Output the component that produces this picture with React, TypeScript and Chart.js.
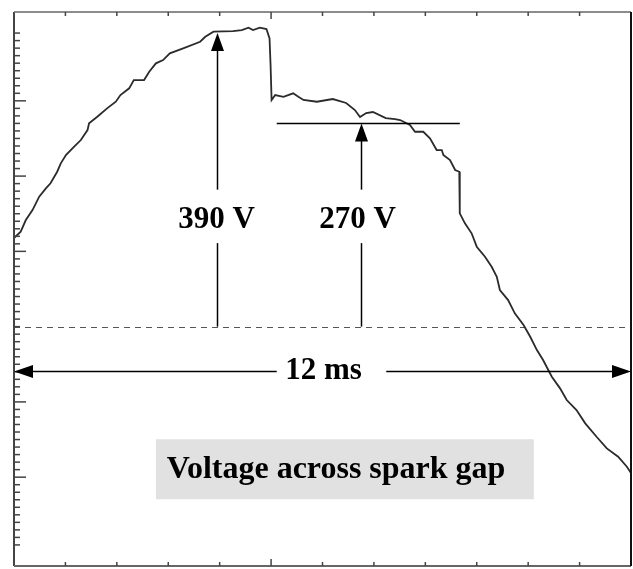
import { useEffect, useRef } from 'react';
import { Chart, registerables } from 'chart.js';

Chart.register(...registerables);

// Trace: time (ms) and voltage (V)
const timeMs = [
  0.0, 0.13, 0.23, 0.36, 0.49, 0.62, 0.71, 0.84, 0.91, 1.01, 1.17, 1.3, 1.43, 1.46, 1.62, 1.81,
  1.98, 2.07, 2.24, 2.33, 2.53, 2.63, 2.76, 2.9, 3.03, 3.29, 3.62, 3.72, 3.88, 4.26, 4.43, 4.56,
  4.65, 4.78, 4.91, 4.97, 4.99, 5.01, 5.08, 5.24, 5.43, 5.53, 5.63, 5.89, 6.2, 6.46, 6.63, 6.73,
  6.85, 6.98, 7.23, 7.41, 7.51, 7.7, 7.8, 7.96, 8.09, 8.22, 8.32, 8.35, 8.48, 8.58, 8.66, 8.67,
  8.77, 8.9, 9.0, 9.16, 9.29, 9.39, 9.45, 9.61, 9.74, 9.91, 10.04, 10.17, 10.29, 10.46, 10.62,
  10.75, 10.94, 11.11, 11.33, 11.53, 11.75, 11.92, 12.0,
];
const voltage = [
  117.7, 126.1, 141.6, 154.9, 172.6, 183.7, 190.4, 205.8, 217.0, 228.0, 239.0, 247.9, 261.2, 270.1,
  278.9, 290.0, 298.8, 307.7, 316.6, 327.6, 327.6, 338.6, 349.8, 354.2, 363.1, 369.7, 378.5, 385.1,
  391.8, 392.7, 394.0, 397.1, 394.0, 397.1, 395.4, 383.0, 347.5, 301.1, 307.7, 305.4, 310.0, 305.4,
  301.1, 298.8, 302.4, 297.1, 287.8, 278.5, 283.8, 285.1, 277.1, 275.8, 274.5, 267.8, 258.9, 258.9,
  250.2, 234.6, 234.6, 228.0, 221.3, 208.1, 205.8, 150.5, 137.2, 124.0, 106.2, 92.9, 79.6, 66.3,
  48.6, 35.3, 17.7, 2.1, -13.4, -31.1, -44.4, -66.6, -82.0, -97.5, -110.8, -128.5, -146.3, -161.7,
  -172.8, -186.1, -194.5,
];

// Axis extents (ms, V)
const X_MIN = 0;
const X_MAX = 12;
const Y_MIN = -318;
const Y_MAX = 418;

// Annotations
const markerLabels = ['390 V', '270 V'];
const markerTimes = [3.94, 6.74];
const markerValues = [390, 270];
const markerLabelTimes = [3.94, 6.68];
const plateauLineStart = 5.11;
const plateauLineEnd = 8.67;
const spanLabel = '12 ms';
const spanLevel = -59;
const captionText = 'Voltage across spark gap';

const FONT = 'bold 31px "Liberation Serif", "Times New Roman", serif';
const CAPTION_FONT = 'bold 32px "Liberation Serif", "Times New Roman", serif';

function arrowHead(ctx: CanvasRenderingContext2D, tx: number, ty: number, dir: string, len: number, half: number) {
  ctx.beginPath();
  if (dir === 'up') {
    ctx.moveTo(tx, ty);
    ctx.lineTo(tx - half, ty + len);
    ctx.lineTo(tx + half, ty + len);
  } else if (dir === 'left') {
    ctx.moveTo(tx, ty);
    ctx.lineTo(tx + len, ty - half);
    ctx.lineTo(tx + len, ty + half);
  } else {
    ctx.moveTo(tx, ty);
    ctx.lineTo(tx - len, ty - half);
    ctx.lineTo(tx - len, ty + half);
  }
  ctx.closePath();
  ctx.fill();
}

function line(ctx: CanvasRenderingContext2D, x1: number, y1: number, x2: number, y2: number) {
  ctx.beginPath();
  ctx.moveTo(x1, y1);
  ctx.lineTo(x2, y2);
  ctx.stroke();
}

const overlay = {
  id: 'overlay',
  beforeDatasetsDraw(chart: any) {
    const { ctx, chartArea, scales } = chart;
    const x = scales.x;
    const y = scales.y;
    ctx.save();
    // caption box
    const bx1 = x.getPixelForValue(2.76);
    const bx2 = x.getPixelForValue(10.11);
    const by1 = y.getPixelForValue(-149.6);
    const by2 = y.getPixelForValue(-229.3);
    ctx.fillStyle = '#e1e1e1';
    ctx.fillRect(bx1, by1, bx2 - bx1, by2 - by1);
    // dashed zero line
    ctx.strokeStyle = '#555';
    ctx.lineWidth = 1;
    ctx.setLineDash([6, 5]);
    const zy = Math.round(y.getPixelForValue(0)) + 0.5;
    line(ctx, chartArea.left, zy, chartArea.right, zy);
    ctx.setLineDash([]);
    ctx.restore();
  },
  afterDatasetsDraw(chart: any) {
    const { ctx, chartArea, scales } = chart;
    const x = scales.x;
    const y = scales.y;
    const { left, right, top, bottom } = chartArea;
    ctx.save();

    // frame
    ctx.strokeStyle = '#444';
    ctx.lineWidth = 2;
    line(ctx, left, top, left, bottom);
    ctx.strokeStyle = '#666';
    ctx.lineWidth = 1.5;
    line(ctx, left, top, right, top);
    ctx.lineWidth = 2;
    line(ctx, left, bottom, right, bottom);
    ctx.strokeStyle = '#111';
    line(ctx, right, top, right, bottom);

    // ticks
    ctx.strokeStyle = '#444';
    ctx.lineWidth = 1.5;
    for (let t = X_MIN + 1; t < X_MAX; t++) {
      const px = x.getPixelForValue(t);
      const len = t === 5 ? 7 : 4;
      line(ctx, px, top, px, top + len);
      line(ctx, px, bottom, px, bottom - len);
    }
    for (let v = -290; v <= 390; v += 10) {
      const py = y.getPixelForValue(v);
      const len = v % 100 === 0 && v !== 0 ? 12 : 6;
      line(ctx, left, py, left + len, py);
    }

    // vertical markers
    ctx.strokeStyle = '#000';
    ctx.fillStyle = '#000';
    ctx.lineWidth = 1.5;
    const y0 = y.getPixelForValue(0);
    const gapLow = y.getPixelForValue(111);
    const gapHigh = y.getPixelForValue(182);
    for (let i = 0; i < markerTimes.length; i++) {
      const px = Math.round(x.getPixelForValue(markerTimes[i])) + 0.5;
      const tip = y.getPixelForValue(markerValues[i]);
      line(ctx, px, y0, px, gapLow);
      line(ctx, px, gapHigh, px, tip + 16);
      arrowHead(ctx, px, tip, 'up', 18, 6.5);
      ctx.font = FONT;
      ctx.textAlign = 'center';
      ctx.textBaseline = 'alphabetic';
      ctx.fillText(markerLabels[i], x.getPixelForValue(markerLabelTimes[i]), y.getPixelForValue(130.6));
    }
    const py270 = Math.round(y.getPixelForValue(270)) + 0.5;
    line(ctx, x.getPixelForValue(plateauLineStart), py270, x.getPixelForValue(plateauLineEnd), py270);

    // 12 ms span arrow
    const sy = Math.round(y.getPixelForValue(spanLevel)) + 0.5;
    line(ctx, left + 16, sy, x.getPixelForValue(5.11), sy);
    line(ctx, x.getPixelForValue(7.24), sy, right - 16, sy);
    arrowHead(ctx, left, sy, 'left', 19, 6.5);
    arrowHead(ctx, right, sy, 'right', 19, 6.5);
    ctx.font = FONT;
    ctx.textAlign = 'center';
    ctx.fillText(spanLabel, x.getPixelForValue(6.02), y.getPixelForValue(-69.6));

    // caption
    ctx.font = CAPTION_FONT;
    ctx.textAlign = 'left';
    ctx.fillText(captionText, x.getPixelForValue(2.97), y.getPixelForValue(-201.1));

    ctx.restore();
  },
};

export default function App() {
  const canvasRef = useRef<HTMLCanvasElement | null>(null);

  useEffect(() => {
    const canvas = canvasRef.current;
    if (!canvas) return;
    const points = timeMs.map((t, i) => ({ x: t, y: voltage[i] }));
    const chart = new Chart(canvas, {
      type: 'line',
      data: {
        datasets: [
          {
            label: 'Voltage',
            data: points,
            borderColor: '#2b2b2b',
            borderWidth: 1.8,
            pointRadius: 0,
            tension: 0,
            fill: false,
          },
        ],
      },
      options: {
        responsive: false,
        animation: false,
        devicePixelRatio: 1,
        layout: { padding: { left: 14, top: 12, right: 2, bottom: 3 } },
        plugins: { legend: { display: false }, tooltip: { enabled: false } },
        scales: {
          x: { type: 'linear', min: X_MIN, max: X_MAX, display: false },
          y: { type: 'linear', min: Y_MIN, max: Y_MAX, display: false },
        },
      },
      plugins: [overlay],
    });
    return () => chart.destroy();
  }, []);

  return (
    <div style={{ position: 'fixed', left: 0, top: 0, width: 633, height: 569, background: '#fff' }}>
      <canvas ref={canvasRef} width={633} height={569} style={{ display: 'block' }} />
    </div>
  );
}
